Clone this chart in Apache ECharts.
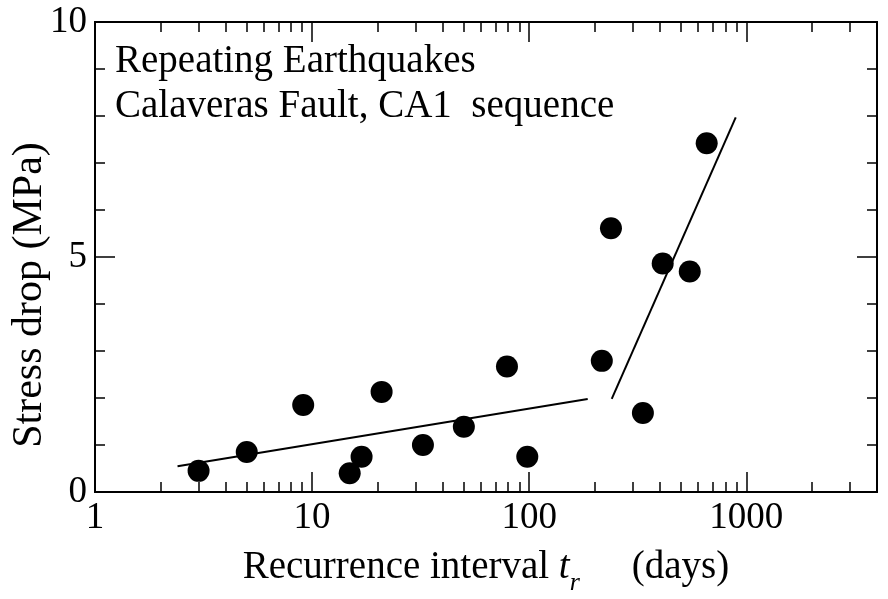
<!DOCTYPE html>
<html>
<head>
<meta charset="utf-8">
<script src="https://cdn.jsdelivr.net/npm/echarts@6/dist/echarts.min.js"></script>
<style>
  html, body { margin: 0; padding: 0; background: #fff; }
  #chart { width: 888px; height: 599px; }
</style>
</head>
<body>
<div id="chart"></div>
<script>
// recurrence interval (days) and stress drop (MPa) of each repeating event
var intervalDays = [3.0, 5.0, 9.1, 14.9, 16.9, 20.9, 32.4, 50, 79, 98, 216, 238, 334, 412, 549, 657];
var stressDrop = [0.45, 0.85, 1.85, 0.4, 0.75, 2.13, 1.0, 1.39, 2.67, 0.75, 2.79, 5.61, 1.68, 4.86, 4.69, 7.42];

// the two fitted trend segments [days, MPa]
var fitShort = [[2.4, 0.55], [186, 1.98]];
var fitLong = [[240, 1.98], [894, 7.97]];

var xLabels = [1, 10, 100, 1000];
var xMajorTicks = [10, 100, 1000];
var xMinorTicks = [2, 3, 4, 5, 6, 7, 8, 9, 20, 30, 40, 50, 60, 70, 80, 90,
  200, 300, 400, 500, 600, 700, 800, 900, 2000, 3000];

var FONT = 'Liberation Serif';
var chart = echarts.init(document.getElementById('chart'));

function logAxis(pos, ticks, len, extra) {
  var ax = {
    type: 'log',
    logBase: 10,
    min: 1,
    max: 4000,
    position: pos,
    offset: 0,
    gridIndex: 0,
    axisLine: { show: true, onZero: false, lineStyle: { color: '#000', width: 2 } },
    axisTick: { show: true, inside: true, length: len, customValues: ticks,
      lineStyle: { color: '#000', width: 1.5 } },
    axisLabel: { show: false },
    splitLine: { show: false },
    minorTick: { show: false }
  };
  return Object.assign(ax, extra || {});
}

function valueAxis(pos, showLabel) {
  return {
    type: 'value',
    min: 0,
    max: 10,
    interval: 5,
    position: pos,
    axisLine: { show: true, onZero: false, lineStyle: { color: '#000', width: 2 } },
    axisTick: { show: true, inside: true, length: 20, lineStyle: { color: '#000', width: 1.5 } },
    minorTick: { show: true, splitNumber: 5, length: 10, lineStyle: { color: '#000', width: 1.5 } },
    axisLabel: { show: showLabel, color: '#000', fontFamily: FONT, fontSize: 37, margin: 8 },
    splitLine: { show: false }
  };
}

var option = {
  animation: false,
  backgroundColor: '#fff',
  grid: { left: 95, right: 11, top: 22, bottom: 107, outerBoundsMode: 'none', containLabel: false },
  xAxis: [
    logAxis('bottom', xMajorTicks, 20, {
      axisLabel: {
        show: true, customValues: xLabels, color: '#000', fontFamily: FONT, fontSize: 37, margin: 8,
        formatter: function (v) { return String(Math.round(v)); }
      },
      name: '{n|Recurrence interval }{i|t}{s|r}{d|(days)}',
      nameLocation: 'middle',
      nameGap: 56,
      nameMoveOverlap: false,
      nameTextStyle: {
        color: '#000', fontFamily: FONT, fontSize: 39,
        rich: {
          n: { fontFamily: FONT, fontSize: 39, color: '#000', verticalAlign: 'top' },
          i: { fontFamily: FONT, fontSize: 39, fontStyle: 'italic', color: '#000', verticalAlign: 'top' },
          s: { fontFamily: FONT, fontSize: 26, fontStyle: 'italic', color: '#000', verticalAlign: 'top', padding: [22, 0, 0, 0] },
          d: { fontFamily: FONT, fontSize: 39, color: '#000', verticalAlign: 'top', padding: [0, 0, 0, 52] }
        }
      }
    }),
    logAxis('bottom', xMinorTicks, 10),
    logAxis('top', xMajorTicks, 20),
    logAxis('top', xMinorTicks, 10)
  ],
  yAxis: [
    Object.assign(valueAxis('left', true), {
      name: 'Stress drop (MPa)',
      nameLocation: 'middle',
      nameGap: 44,
      nameMoveOverlap: false,
      nameTextStyle: { color: '#000', fontFamily: FONT, fontSize: 42, padding: [0, 76, 0, 0] }
    }),
    valueAxis('right', false)
  ],
  graphic: [
    { type: 'text', left: 115, top: 42, style: { text: 'Repeating Earthquakes', font: '39px "Liberation Serif"', fill: '#000' } },
    { type: 'text', left: 115, top: 87, style: { text: 'Calaveras Fault, CA1  sequence', font: '39px "Liberation Serif"', fill: '#000' } }
  ],
  series: [
    {
      type: 'scatter',
      xAxisIndex: 0,
      yAxisIndex: 0,
      symbol: 'circle',
      symbolSize: 22,
      itemStyle: { color: '#000', opacity: 1 },
      data: intervalDays.map(function (d, i) { return [d, stressDrop[i]]; })
    },
    {
      type: 'line',
      xAxisIndex: 0,
      yAxisIndex: 0,
      showSymbol: false,
      lineStyle: { color: '#000', width: 2 },
      data: fitShort
    },
    {
      type: 'line',
      xAxisIndex: 0,
      yAxisIndex: 0,
      showSymbol: false,
      lineStyle: { color: '#000', width: 2 },
      data: fitLong
    }
  ]
};

chart.setOption(option);
</script>
</body>
</html>
